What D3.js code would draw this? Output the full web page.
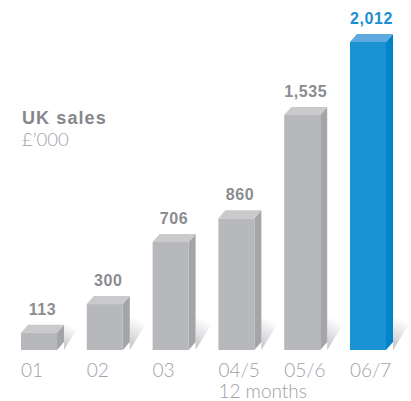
<!DOCTYPE html>
<html>
<head>
<meta charset="utf-8">
<script src="https://cdn.jsdelivr.net/npm/d3@7"></script>
<style>
  html, body { margin: 0; padding: 0; background: #fff; }
  svg { display: block; }
</style>
</head>
<body>
<div id="chart"></div>
<script>
// UK sales, £'000, by financial year
const categories = ["01", "02", "03", "04/5", "05/6", "06/7"];
const sales = [113, 300, 706, 860, 1535, 2012];
const valueLabels = ["113", "300", "706", "860", "1,535", "2,012"];
const highlightIndex = 5;
const subLabel = "12 months";

const width = 411, height = 401;
const baseY = 350;
const depthX = 7, depthY = 8;

const svg = d3.select("#chart").append("svg")
  .attr("width", width).attr("height", height);

const x = d3.scaleBand()
  .domain(categories)
  .range([21, 386])
  .paddingInner(0.453)
  .paddingOuter(0);

const y = d3.scaleLinear()
  .domain([0, 2012])
  .range([baseY, 42]);

const palette = {
  grey: { front: "#b7b8bb", side: "#a4a5a8", top: "#cacacc", label: "#8b8c90" },
  blue: { front: "#1a93d5", side: "#0083c9", top: "#5ea9de", label: "#1a8fd4" }
};

// shadow gradient cast to the right of each bar
const defs = svg.append("defs");
const grad = defs.append("linearGradient")
  .attr("id", "shadow").attr("x1", 0).attr("y1", 1).attr("x2", 0.3).attr("y2", 0);
grad.append("stop").attr("offset", 0).attr("stop-color", "#c2c2c5");
grad.append("stop").attr("offset", 0.55).attr("stop-color", "#e4e4e6");
grad.append("stop").attr("offset", 1).attr("stop-color", "#ffffff");

const data = categories.map((c, i) => ({
  cat: c, value: sales[i], label: valueLabels[i],
  col: i === highlightIndex ? palette.blue : palette.grey
}));

const bars = svg.append("g").selectAll("g").data(data).join("g");

// shadow wedge
bars.append("path")
  .attr("fill", "url(#shadow)")
  .attr("d", d => {
    const sx = x(d.cat) + x.bandwidth() + depthX;
    const h = Math.min(baseY - y(d.value) + depthY, 32);
    return `M${sx},${baseY} L${sx},${baseY - h} L${sx + h * 0.62},${baseY - h} Z`;
  });

// right side face
bars.append("path")
  .attr("fill", d => d.col.side)
  .attr("d", d => {
    const x1 = x(d.cat) + x.bandwidth(), t = y(d.value);
    return `M${x1},${t} L${x1 + depthX},${t - depthY} L${x1 + depthX},${baseY - depthY} L${x1},${baseY} Z`;
  });

// top face
bars.append("path")
  .attr("fill", d => d.col.top)
  .attr("d", d => {
    const x0 = x(d.cat), x1 = x0 + x.bandwidth(), t = y(d.value);
    return `M${x0},${t} L${x0 + depthX},${t - depthY} L${x1 + depthX},${t - depthY} L${x1},${t} Z`;
  });

// front face
bars.append("rect")
  .attr("fill", d => d.col.front)
  .attr("x", d => x(d.cat))
  .attr("y", d => y(d.value))
  .attr("width", x.bandwidth())
  .attr("height", d => baseY - y(d.value));

// value labels
bars.append("text")
  .attr("x", d => x(d.cat) + x.bandwidth() / 2 + depthX / 2)
  .attr("y", d => y(d.value) - depthY - 10)
  .attr("text-anchor", "middle")
  .attr("font-family", "'Liberation Sans', Arial, sans-serif")
  .attr("font-weight", "bold")
  .attr("font-size", 16)
  .attr("letter-spacing", 0.6)
  .attr("fill", d => d.col.label)
  .text(d => d.label);

// category labels
const axis = svg.append("g")
  .attr("font-family", "Lato, 'Open Sans', sans-serif")
  .attr("font-weight", 300)
  .attr("font-size", 19)
  .attr("fill", "#a0a1a5");

axis.selectAll("text.cat").data(categories).join("text")
  .attr("class", "cat")
  .attr("x", d => x(d))
  .attr("y", 377)
  .text(d => d);

axis.append("text")
  .attr("x", x("04/5"))
  .attr("y", 398)
  .text(subLabel);

// title and unit
const title = svg.append("g");
title.append("text")
  .attr("x", 22).attr("y", 124)
  .attr("font-family", "'Liberation Sans', Arial, sans-serif")
  .attr("font-weight", "bold").attr("font-size", 18)
  .attr("letter-spacing", 1.1)
  .attr("fill", "#86878c")
  .text("UK sales");
title.append("text")
  .attr("x", 22).attr("y", 146)
  .attr("font-family", "Lato, 'Open Sans', sans-serif")
  .attr("font-weight", 300).attr("font-size", 18.5)
  .attr("fill", "#a0a1a5")
  .text("£’000");
</script>
</body>
</html>
